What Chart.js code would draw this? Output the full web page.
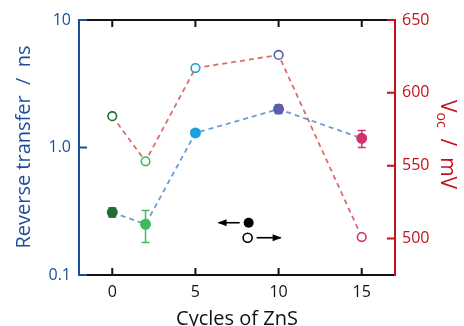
<!DOCTYPE html>
<html>
<head>
<meta charset="utf-8">
<script src="https://cdn.jsdelivr.net/npm/chart.js@4.4.1/dist/chart.umd.min.js"></script>
<style>
  html, body { margin: 0; padding: 0; background: #fff; }
  #wrap { width: 464px; height: 326px; }
</style>
</head>
<body>
<div id="wrap"><canvas id="myChart" width="464" height="326"></canvas></div>
<script>
/* ---------- data ---------- */
const cycles = [0, 2, 5, 10, 15];
const transfer = [0.31, 0.25, 1.3, 2.0, 1.18];      // ns, left axis
const transferErr = [0.025, 0.07, 0.07, 0.15, 0.18];
const voc = [584, 553, 617, 626, 501];              // mV, right axis
const pointColors = ['#1e6e36', '#3dba5c', '#1ba2dc', '#5a5eae', '#d2336e'];

const xTicks = [0, 5, 10, 15];
const leftTicks = [0.1, 1, 10];
const rightTicks = [500, 550, 600, 650];

const BLUE = '#1b4f9c';
const RED = '#c3121c';
const FONT = "'Open Sans', 'Noto Sans', sans-serif";

/* ---------- helpers ---------- */
const frame = {
    id: 'frame',
    beforeDatasetsDraw(chart) {
        const { ctx, chartArea: a, scales } = chart;
        ctx.save();
        ctx.lineWidth = 2;
        // top & bottom black
        ctx.strokeStyle = '#111';
        ctx.beginPath();
        ctx.moveTo(a.left, a.top); ctx.lineTo(a.right, a.top);
        ctx.moveTo(a.left, a.bottom); ctx.lineTo(a.right, a.bottom);
        xTicks.forEach(t => {
            const px = scales.x.getPixelForValue(t);
            ctx.moveTo(px, a.bottom); ctx.lineTo(px, a.bottom - 7);
            ctx.moveTo(px, a.top); ctx.lineTo(px, a.top + 7);
        });
        ctx.stroke();
        // left axis blue
        ctx.strokeStyle = BLUE;
        ctx.beginPath();
        ctx.moveTo(a.left, a.top - 1); ctx.lineTo(a.left, a.bottom + 1);
        leftTicks.forEach(t => {
            const py = scales.y.getPixelForValue(t);
            ctx.moveTo(a.left, py); ctx.lineTo(a.left + 8, py);
        });
        ctx.stroke();
        // right axis red
        ctx.strokeStyle = RED;
        ctx.beginPath();
        ctx.moveTo(a.right, a.top - 1); ctx.lineTo(a.right, a.bottom + 1);
        rightTicks.forEach(t => {
            const py = scales.y2.getPixelForValue(t);
            ctx.moveTo(a.right, py); ctx.lineTo(a.right - 8, py);
        });
        ctx.stroke();
        ctx.restore();
    },
    afterDatasetsDraw(chart) {
        const { ctx, chartArea: a, scales } = chart;
        ctx.save();
        // error bars for transfer series
        ctx.lineWidth = 1.5;
        cycles.forEach((c, i) => {
            const px = scales.x.getPixelForValue(c);
            const y1 = scales.y.getPixelForValue(transfer[i] - transferErr[i]);
            const y2 = scales.y.getPixelForValue(transfer[i] + transferErr[i]);
            ctx.strokeStyle = pointColors[i];
            ctx.beginPath();
            ctx.moveTo(px, y1); ctx.lineTo(px, y2);
            ctx.moveTo(px - 4, y1); ctx.lineTo(px + 4, y1);
            ctx.moveTo(px - 4, y2); ctx.lineTo(px + 4, y2);
            ctx.stroke();
        });

        // key: filled -> left axis, open -> right axis
        const kx = scales.x.getPixelForValue(8.2);
        const ky = a.top + (a.bottom - a.top) * 0.795;
        ctx.fillStyle = '#000';
        ctx.strokeStyle = '#000';
        ctx.beginPath(); ctx.arc(kx, ky, 5, 0, Math.PI * 2); ctx.fill();
        ctx.lineWidth = 1.6;
        ctx.beginPath(); ctx.arc(kx - 1, ky + 15, 4.5, 0, Math.PI * 2); ctx.stroke();
        const arrow = (x0, x1, y) => {
            ctx.beginPath(); ctx.moveTo(x0, y); ctx.lineTo(x1, y); ctx.stroke();
            const d = Math.sign(x1 - x0);
            ctx.beginPath();
            ctx.moveTo(x1 + d, y);
            ctx.lineTo(x1 - d * 8, y - 3.5);
            ctx.lineTo(x1 - d * 8, y + 3.5);
            ctx.closePath(); ctx.fill();
        };
        arrow(kx - 9, kx - 30, ky);
        arrow(kx + 8, kx + 32, ky + 15);

        // axis titles
        ctx.fillStyle = BLUE;
        ctx.font = '20px ' + FONT;
        ctx.textAlign = 'center';
        ctx.textBaseline = 'middle';
        ctx.save();
        ctx.translate(24, 147);
        ctx.rotate(-Math.PI / 2);
        ctx.fillText('Reverse transfer  /  ns', 0, 0);
        ctx.restore();

        ctx.fillStyle = RED;
        ctx.save();
        ctx.translate(447, 100);
        ctx.rotate(Math.PI / 2);
        ctx.textAlign = 'left';
        ctx.font = '21px ' + FONT;
        ctx.fillText('V', 0, 0);
        let w = ctx.measureText('V').width;
        ctx.font = '14px ' + FONT;
        ctx.fillText('oc', w, 6);
        w += ctx.measureText('oc').width;
        ctx.font = '21px ' + FONT;
        ctx.fillText('  /  mV', w, 0);
        ctx.restore();

        ctx.fillStyle = '#111';
        ctx.font = '20px ' + FONT;
        ctx.textAlign = 'center';
        ctx.fillText('Cycles of ZnS', (a.left + a.right) / 2, 319);
        ctx.restore();
    }
};

const data = {
    datasets: [{
        label: 'Reverse transfer',
        data: cycles.map((c, i) => ({ x: c, y: transfer[i] })),
        yAxisID: 'y',
        showLine: true,
        borderColor: '#6c9dd2',
        borderWidth: 1.8,
        borderDash: [5, 4],
        pointBackgroundColor: pointColors,
        pointBorderColor: pointColors,
        pointRadius: 4.6,
        order: 2,
    }, {
        label: 'Voc',
        data: cycles.map((c, i) => ({ x: c, y: voc[i] })),
        yAxisID: 'y2',
        showLine: true,
        borderColor: '#e06a6a',
        borderWidth: 1.8,
        borderDash: [5, 4],
        pointBackgroundColor: '#fff',
        pointBorderColor: pointColors,
        pointBorderWidth: 1.6,
        pointRadius: 4.3,
        order: 1,
    }]
};

const config = {
    type: 'scatter',
    data: data,
    options: {
        responsive: false,
        animation: false,
        layout: { padding: { top: 20, bottom: 0, left: 0, right: 0 } },
        plugins: { legend: { display: false }, tooltip: { enabled: false } },
        scales: {
            x: {
                type: 'linear',
                min: -2, max: 17,
                grid: { display: false, drawTicks: false },
                border: { display: false },
                afterBuildTicks: s => { s.ticks = xTicks.map(v => ({ value: v })); },
                afterFit: s => { s.height = 51; },
                ticks: { color: '#111', font: { size: 16, family: FONT }, padding: 8, maxRotation: 0 }
            },
            y: {
                type: 'logarithmic',
                position: 'left',
                min: 0.1, max: 10,
                grid: { display: false, drawTicks: false },
                border: { display: false },
                afterBuildTicks: s => { s.ticks = leftTicks.map(v => ({ value: v })); },
                afterFit: s => { s.width = 79; },
                ticks: {
                    color: BLUE, font: { size: 16, family: FONT }, padding: 8,
                    callback: v => (v === 10 ? '10' : v.toFixed(1))
                }
            },
            y2: {
                type: 'linear',
                position: 'right',
                min: 475, max: 650,
                grid: { display: false, drawTicks: false },
                border: { display: false },
                afterBuildTicks: s => { s.ticks = rightTicks.map(v => ({ value: v })); },
                afterFit: s => { s.width = 69; },
                ticks: { color: RED, font: { size: 16, family: FONT }, padding: 7 }
            }
        }
    },
    plugins: [frame]
};

const myChart = new Chart(document.getElementById('myChart'), config);
</script>
</body>
</html>
